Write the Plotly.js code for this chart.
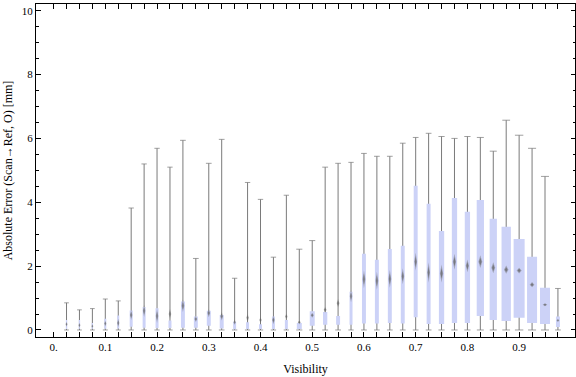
<!DOCTYPE html>
<html><head><meta charset="utf-8">
<script src="https://cdn.plot.ly/plotly-3.0.1.min.js"></script>
<style>html,body{margin:0;padding:0;background:#fff}#chart{width:576px;height:377px}</style>
</head><body><div id="chart"></div>
<script>
// ---- data ----
const visibility = [0.025,0.05,0.075,0.1,0.125,0.15,0.175,0.2,0.225,0.25,0.275,0.3,0.325,0.35,0.375,0.4,0.425,0.45,0.475,0.5,0.525,0.55,0.575,0.6,0.625,0.65,0.675,0.7,0.725,0.75,0.775,0.8,0.825,0.85,0.875,0.9,0.925,0.95,0.975];
const whiskerMin = [0,0,0,0,0,0,0,0,0,0,0,0,0,0,0,0,0,0,0,0,0,0,0,0,0,0,0,0,0,0,0,0,0,0,0,0,0,0,0];
const whiskerMax = [0.85,0.63,0.67,0.97,0.91,3.82,5.2,5.69,5.1,5.94,2.24,5.22,5.97,1.62,4.62,4.09,2.28,4.22,2.53,2.8,5.1,5.22,5.25,5.53,5.44,5.44,5.85,6.03,6.16,6.06,6.0,6.06,6.03,5.6,6.57,6.1,5.69,4.81,1.3];
const q1 = [0.03,0.04,0.04,0.04,0.05,0.1,0.07,0.06,0.06,0.07,0.07,0.13,0.05,0.02,0.03,0.03,0.03,0.03,0.03,0.13,0.16,0.16,0.16,0.2,0.2,0.22,0.2,0.4,0.19,0.19,0.22,0.22,0.44,0.31,0.28,0.38,0.22,0.19,0.09];
const q3 = [0.31,0.31,0.22,0.35,0.45,0.61,0.72,0.68,0.3,0.89,0.42,0.6,0.47,0.26,0.24,0.18,0.42,0.31,0.22,0.59,0.56,0.44,1.2,2.39,2.2,2.54,2.64,4.52,3.95,3.1,4.13,3.7,4.07,3.48,3.23,2.85,2.29,1.32,0.42];
const meanVal = [0.18,0.15,0.12,0.2,0.22,0.47,0.6,0.44,0.5,0.76,0.34,0.53,0.43,0.24,0.38,0.31,0.31,0.42,0.24,0.46,0.63,0.84,1.06,1.59,1.54,1.6,1.68,2.14,1.8,1.77,2.14,2.01,2.14,1.95,1.89,1.86,1.42,0.79,0.3];
const meanHalfCI = [0.08,0.08,0.06,0.09,0.13,0.16,0.19,0.22,0.16,0.2,0.09,0.13,0.13,0.08,0.13,0.09,0.13,0.09,0.06,0.08,0.09,0.13,0.19,0.28,0.28,0.28,0.25,0.28,0.31,0.28,0.25,0.2,0.2,0.17,0.13,0.09,0.08,0.05,0.05];
const relCount = [0.12,0.12,0.12,0.18,0.18,0.27,0.27,0.27,0.27,0.36,0.36,0.36,0.36,0.27,0.27,0.27,0.27,0.27,0.45,0.45,0.39,0.36,0.27,0.36,0.36,0.36,0.36,0.36,0.36,0.48,0.48,0.48,0.66,0.66,0.85,1.0,0.91,0.91,0.36];
const xLabelVals = [0,0.1,0.2,0.3,0.4,0.5,0.6,0.7,0.8,0.9];
const xLabelText = ["0.","0.1","0.2","0.3","0.4","0.5","0.6","0.7","0.8","0.9"];
const yTickVals = [0,2,4,6,8,10];

// ---- styles / geometry ----
const W = 576, H = 377;
const M = {l:36, r:1, t:4, b:40};
const X_RANGE = [-0.034, 1.008];
const Y_RANGE = [-0.22, 10.21];
const pxPerX = (W - M.l - M.r) / (X_RANGE[1] - X_RANGE[0]);
const MAX_BOX_PX = 11;
const BOX_COLOR = 'rgb(204,210,247)';
const WHISKER_COLOR = 'rgb(122,122,122)';

const wx = [], wy = [];
const capX = [], capY = [], capS = [];
const bx = [], by = [];
const dOx = [], dOy = [], dIx = [], dIy = [];
visibility.forEach((v, i) => {
  wx.push(v, v, null); wy.push(whiskerMin[i], whiskerMax[i], null);
  const boxPx = relCount[i] * MAX_BOX_PX;
  capX.push(v, v); capY.push(whiskerMin[i], whiskerMax[i]);
  const cs = 3 + 3 * relCount[i]; capS.push(cs, cs);
  const hw = boxPx / 2 / pxPerX;
  bx.push(v - hw, v + hw, v + hw, v - hw, v - hw, null);
  by.push(q1[i], q1[i], q3[i], q3[i], q1[i], null);
  const dw = (0.8 + 0.16 * boxPx) / pxPerX;
  const m = meanVal[i], h = meanHalfCI[i];
  dOx.push(v, v + dw, v, v - dw, v, null);
  dOy.push(m - h, m, m + h, m, m - h, null);
  dIx.push(v, v + dw * 0.6, v, v - dw * 0.6, v, null);
  dIy.push(m - h * 0.6, m, m + h * 0.6, m, m - h * 0.6, null);
});

const traces = [
  {type:'scatter', mode:'lines', x:wx, y:wy, line:{color:WHISKER_COLOR, width:1}, hoverinfo:'skip'},
  {type:'scatter', mode:'markers', x:capX, y:capY, marker:{symbol:'line-ew', size:capS, color:WHISKER_COLOR, line:{color:WHISKER_COLOR, width:1}}, hoverinfo:'skip'},
  {type:'scatter', mode:'lines', x:bx, y:by, fill:'toself', fillcolor:BOX_COLOR, line:{width:0, color:BOX_COLOR}, hoverinfo:'skip'},
  {type:'scatter', mode:'lines', x:dOx, y:dOy, fill:'toself', fillcolor:'rgba(110,110,110,0.45)', line:{width:0}, hoverinfo:'skip'},
  {type:'scatter', mode:'lines', x:dIx, y:dIy, fill:'toself', fillcolor:'rgba(95,95,95,0.65)', line:{width:0}, hoverinfo:'skip'}
];

const xTickVals = [0].concat(visibility);
const xTickText = xTickVals.map(t => {
  const k = xLabelVals.findIndex(l => Math.abs(l - t) < 1e-9);
  return k >= 0 ? xLabelText[k] : '';
});

const layout = {
  width: W, height: H, margin: M,
  paper_bgcolor: '#fff', plot_bgcolor: '#fff', showlegend: false,
  font: {family: '"Liberation Serif", "Times New Roman", serif', size: 11, color: '#000'},
  xaxis: {
    range: X_RANGE, showgrid: false, zeroline: false,
    showline: true, linecolor: '#000', linewidth: 1, mirror: 'ticks',
    ticks: 'inside', ticklen: 5, tickcolor: '#000', tickwidth: 1,
    tickmode: 'array', tickvals: xTickVals, ticktext: xTickText,
    tickfont: {size: 11},
    title: {text: 'Visibility', font: {size: 12}, standoff: 12}
  },
  yaxis: {
    range: Y_RANGE, showgrid: false, zeroline: false,
    showline: true, linecolor: '#000', linewidth: 1, mirror: 'ticks',
    ticks: 'inside', ticklen: 4.5, tickcolor: '#000', tickwidth: 1,
    tickmode: 'array', tickvals: yTickVals,
    minor: {tickmode: 'linear', tick0: 0, dtick: 0.5, ticks: 'inside', ticklen: 2.5, tickcolor: '#000'},
    tickfont: {size: 11},
    title: {text: 'Absolute Error (Scan→Ref, O) [mm]', font: {size: 12}, standoff: 6}
  }
};

Plotly.newPlot('chart', traces, layout, {displayModeBar: false, staticPlot: true});
</script>
</body></html>
